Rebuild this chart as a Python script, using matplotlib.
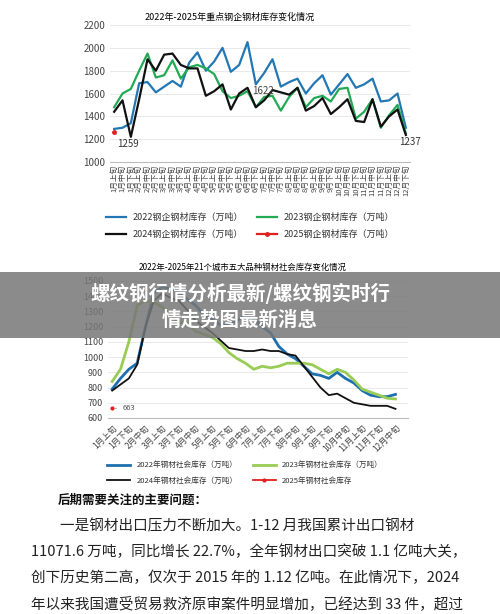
import matplotlib
matplotlib.use("Agg")
import matplotlib.pyplot as plt
from matplotlib.patches import Rectangle

plt.rcParams['font.family'] = ['Noto Sans CJK SC', 'DejaVu Sans']

months = [f"{m}月{p}" for m in range(1, 13) for p in ["上旬", "中旬", "下旬"]]

top_2022 = [1290,1300,1340,1690,1700,1610,1660,1710,1660,1870,1960,1800,1880,2000,1790,1850,2050,1680,1780,1900,1660,1700,1730,1600,1690,1760,1590,1680,1770,1650,1680,1730,1530,1540,1600,1300]
top_2023 = [1480,1600,1640,1800,1950,1740,1760,1890,1730,1830,1850,1820,1770,1620,1560,1580,1620,1480,1570,1580,1450,1570,1650,1480,1560,1580,1530,1640,1650,1380,1440,1550,1300,1410,1500,1250]
top_2024 = [1440,1540,1220,1550,1900,1800,1940,1950,1850,1820,1820,1580,1620,1680,1460,1600,1650,1480,1540,1630,1610,1590,1650,1450,1490,1560,1420,1480,1550,1360,1350,1550,1310,1400,1460,1237]
top_2025 = [1259]

bot_2022 = [790,860,920,960,1200,1420,1460,1450,1420,1380,1340,1280,1250,1210,1210,1240,1280,1250,1200,1160,1070,1020,990,940,890,880,860,900,860,830,780,750,740,740,755]
bot_2023 = [840,920,1100,1340,1370,1360,1330,1270,1230,1220,1170,1150,1130,1090,1030,990,960,920,940,930,940,960,960,960,950,920,890,920,900,850,790,770,750,730,725]
bot_2024 = [780,820,860,950,1200,1370,1420,1390,1370,1310,1240,1200,1160,1110,1060,1050,1040,1040,1050,1040,1040,1020,1010,940,870,800,750,760,730,700,690,680,680,680,660]
bot_2025 = [663]

W, H = 500, 614
fig = plt.figure(figsize=(5, 6.14), dpi=100)
def ax_px(l, t, r, b):
    return fig.add_axes([l / W, 1 - b / H, (r - l) / W, (b - t) / H])

BLUE, GREEN, BLACK, RED = "#2277b4", "#22aa55", "#111111", "#e02020"
order = [0, 2, 1, 3]

# top chart
ax = ax_px(110, 25, 410, 162)
x = range(len(top_2022))
ax.plot(x, top_2022, color=BLUE, lw=1.6, label="2022钢企钢材库存（万吨）")
ax.plot(x, top_2023, color=GREEN, lw=1.6, label="2023钢企钢材库存（万吨）")
ax.plot(x, top_2024, color=BLACK, lw=1.6, label="2024钢企钢材库存（万吨）")
ax.plot(range(len(top_2025)), top_2025, color=RED, marker="o", ms=2.5, lw=1.6, label="2025钢企钢材库存（万吨）")
ax.set_ylim(1000, 2200)
ax.set_xlim(-0.5, 35.5)
ax.set_yticks(range(1000, 2201, 200))
ax.set_xticks(list(x))
ax.set_xticklabels(months, rotation=90, fontsize=5.5)
ax.tick_params(axis='y', labelsize=7, length=0, colors="#444")
ax.tick_params(axis='x', length=0, pad=2, colors="#444")
ax.grid(axis='y', color="#e5e5e5", lw=0.6)
for s in ["top", "right", "left"]:
    ax.spines[s].set_visible(False)
ax.spines["bottom"].set_color("#bbb")
ax.set_title("2022年-2025年重点钢企钢材库存变化情况", fontsize=6.5, pad=4, x=0.4)
ax.annotate("1259", xy=(0, top_2025[0]), xytext=(0.3, 1130), fontsize=7, color="#333",
            arrowprops=dict(arrowstyle="-", color="#888", lw=0.5))
ax.text(16.5, 1600, "1622", fontsize=7, color="#444")
ax.text(35.5, 1150, "1237", fontsize=7, color="#333", ha="center")
h, l = ax.get_legend_handles_labels()
fig.legend([h[i] for i in order], [l[i] for i in order], ncol=2, loc="center",
           bbox_to_anchor=(250 / W, 1 - 226 / H), frameon=False,
           fontsize=6.5, handlelength=2.2, columnspacing=1.5, labelspacing=0.8, labelcolor="#333")

# bottom chart
ax2 = ax_px(108, 281, 408, 418)
x2 = range(len(bot_2022))
ax2.plot(x2, bot_2022, color="#1e6fb0", lw=2, label="2022年钢材社会库存（万吨）")
ax2.plot(x2, bot_2023, color="#99cc55", lw=2, label="2023年钢材社会库存（万吨）")
ax2.plot(x2, bot_2024, color=BLACK, lw=1.3, label="2024年钢材社会库存（万吨）")
ax2.plot(range(len(bot_2025)), bot_2025, color=RED, marker="o", ms=2, lw=1.3, label="2025年钢材社会库存")
ax2.set_ylim(600, 1500)
ax2.set_xlim(-0.5, 35.5)
ax2.set_yticks(range(600, 1501, 100))
ax2.set_xticks(list(range(0, 35, 2)))
ax2.set_xticklabels(months[0:35:2], rotation=45, ha="right", rotation_mode="anchor", fontsize=6)
ax2.tick_params(axis='y', labelsize=6.5, length=0, colors="#444")
ax2.tick_params(axis='x', length=0, colors="#444")
ax2.grid(axis='y', color="#e5e5e5", lw=0.6)
for s in ["top", "right", "left"]:
    ax2.spines[s].set_visible(False)
ax2.spines["bottom"].set_color("#bbb")
ax2.set_title("2022年-2025年21个城市五大品种钢材社会库存变化情况", fontsize=6, pad=8, x=0.45)
ax2.annotate("663", xy=(0, bot_2025[0]), xytext=(1.2, 665), fontsize=5.5, color="#555", va="center",
             arrowprops=dict(arrowstyle="-", color="#888", lw=0.5))
h2, l2 = ax2.get_legend_handles_labels()
fig.legend([h2[i] for i in order], [l2[i] for i in order], ncol=2, loc="center",
           bbox_to_anchor=(245 / W, 1 - 473 / H), frameon=False,
           fontsize=5.5, handlelength=3, columnspacing=2, labelspacing=1.0, labelcolor="#333")

# banner
fig.patches.append(Rectangle((0, 1 - 338 / H), 1, 66 / H, transform=fig.transFigure,
                             facecolor="#777777", alpha=0.85, zorder=10))
fig.text(240 / W, 1 - 293 / H, "螺纹钢行情分析最新/螺纹钢实时行", fontsize=14, fontweight="bold",
         color="white", ha="center", va="center", zorder=11)
fig.text(240 / W, 1 - 320 / H, "情走势图最新消息", fontsize=14, fontweight="bold",
         color="white", ha="center", va="center", zorder=11)

# text below
fig.text(58 / W, 1 - 500 / H, "后期需要关注的主要问题：", fontsize=9, fontweight="bold", va="center", color="#111")
lines = [
    (60, "一是钢材出口压力不断加大。1-12 月我国累计出口钢材"),
    (31, "11071.6 万吨，同比增长 22.7%，全年钢材出口突破 1.1 亿吨大关，"),
    (31, "创下历史第二高，仅次于 2015 年的 1.12 亿吨。在此情况下，2024"),
    (31, "年以来我国遭受贸易救济原审案件明显增加，已经达到 33 件，超过"),
]
ys = [526, 552, 578, 604]
for (xx, t), yy in zip(lines, ys):
    fig.text(xx / W, 1 - yy / H, t, fontsize=10.5, va="center", color="#222")

fig.savefig("out.png", dpi=100, facecolor="white")
